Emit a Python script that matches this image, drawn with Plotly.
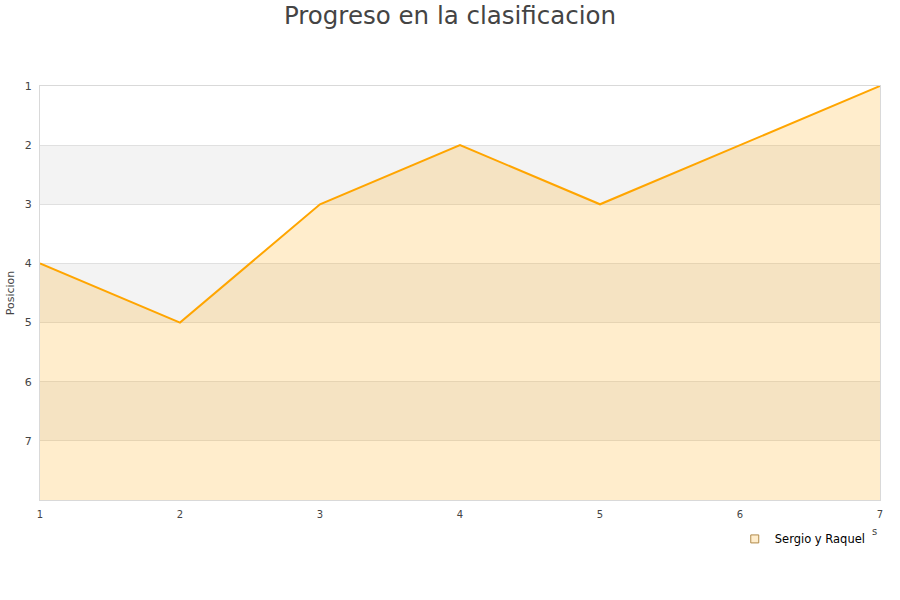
import plotly.graph_objects as go

jornadas = [1, 2, 3, 4, 5, 6, 7]
posicion = [4, 5, 3, 2, 3, 2, 1]
serie = "Sergio y Raquel"
y_ticks = [1, 2, 3, 4, 5, 6, 7]
bands = [(2, 3), (4, 5), (6, 7)]
y_bottom = 8

fig = go.Figure()

# baseline for fill
fig.add_trace(go.Scatter(x=jornadas, y=[y_bottom] * len(jornadas), mode="lines",
                         line=dict(width=0, color="rgba(0,0,0,0)"), showlegend=False,
                         hoverinfo="skip"))
fig.add_trace(go.Scatter(x=jornadas, y=posicion, mode="lines", name=serie,
                         line=dict(color="#ffa500", width=2), showlegend=False,
                         fill="tonexty", fillcolor="rgba(255,165,0,0.2)"))
# legend entry (square swatch)
fig.add_trace(go.Scatter(x=[None], y=[None], mode="markers", name=serie,
                         marker=dict(symbol="square", size=8, color="#ffedcc",
                                     line=dict(color="#b08a4a", width=1))))

for a, b in bands:
    fig.add_shape(type="rect", xref="paper", yref="y", x0=0, x1=1, y0=a, y1=b,
                  fillcolor="#f3f3f3", line=dict(width=0), layer="below")

fig.add_annotation(text="s", xref="paper", yref="paper", x=0.994, y=-0.075,
                   xanchor="center", yanchor="middle",
                   showarrow=False, font=dict(size=10, color="#444"))

fig.update_layout(
    width=900, height=600,
    paper_bgcolor="white", plot_bgcolor="white",
    margin=dict(l=40, r=20, t=86, b=100),
    title=dict(text="Progreso en la clasificacion", x=0.5, xanchor="center",
               y=0.975, yanchor="middle",
               font=dict(family="DejaVu Sans", size=24.5, color="#444")),
    font=dict(family="DejaVu Sans", size=11, color="#444"),
    showlegend=True,
    legend=dict(x=0.989, xanchor="right", y=-0.094, yanchor="middle",
                font=dict(size=11.5, color="#000"), bgcolor="rgba(0,0,0,0)"),
    xaxis=dict(range=[1, 7], tickvals=jornadas, showgrid=False, zeroline=False,
               showline=True, linecolor="#d9d9d9", mirror=True, ticks="",
               ticklabelstandoff=5, automargin=False,
               tickfont=dict(size=10, color="#444")),
    yaxis=dict(range=[y_bottom, 1], tickvals=y_ticks, showgrid=True,
               gridcolor="#e0e0e0", zeroline=False, showline=True,
               linecolor="#d9d9d9", mirror=True, ticks="",
               ticklabelstandoff=5, automargin=False,
               tickfont=dict(size=11, color="#444"),
               title=dict(text="Posicion", font=dict(size=11, color="#444"), standoff=7)),
)

fig.write_html("out.html", config={"displayModeBar": False},
               post_script="document.body.style.margin='0';")
